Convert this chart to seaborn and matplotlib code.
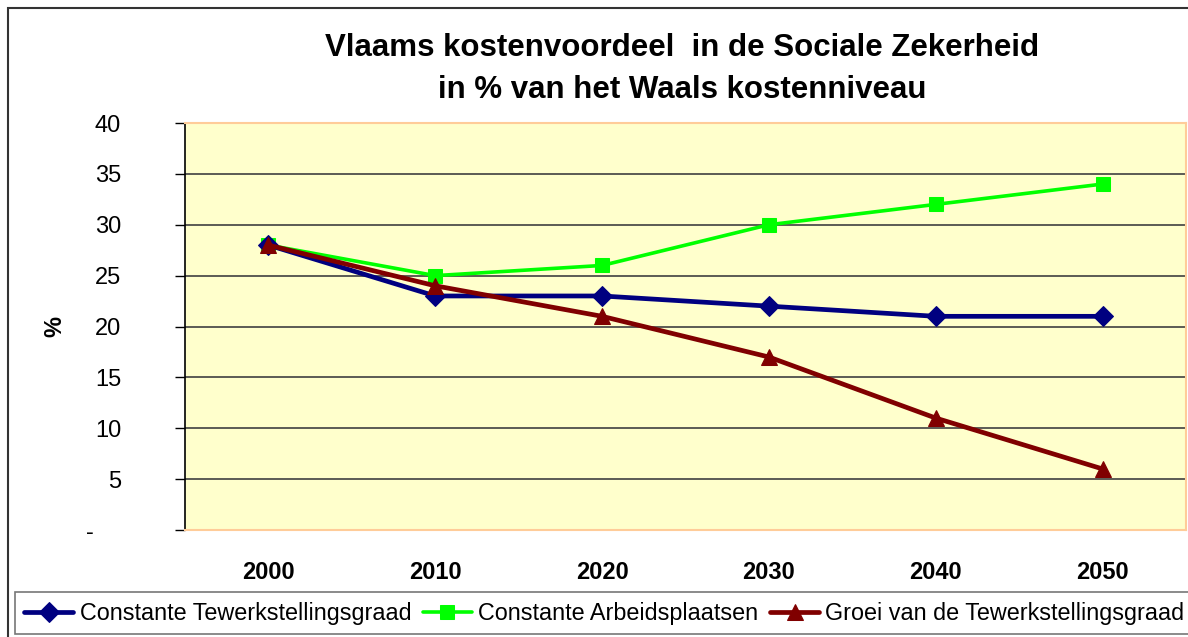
import matplotlib
matplotlib.use("Agg")
import matplotlib.pyplot as plt
import matplotlib.transforms as mtransforms
import seaborn as sns
import pandas as pd
from matplotlib.patches import Rectangle

years = [2000, 2010, 2020, 2030, 2040, 2050]
constante_tewerkstellingsgraad = [28, 23, 23, 22, 21, 21]
constante_arbeidsplaatsen = [28, 25, 26, 30, 32, 34]
groei_tewerkstellingsgraad = [28, 24, 21, 17, 11, 6]
series_names = ["Constante Tewerkstellingsgraad", "Constante Arbeidsplaatsen",
                "Groei van de Tewerkstellingsgraad"]
y_ticks = [0, 5, 10, 15, 20, 25, 30, 35, 40]
y_ticklabels = ["-", "5", "10", "15", "20", "25", "30", "35", "40"]
title = "Vlaams kostenvoordeel  in de Sociale Zekerheid\nin % van het Waals kostenniveau"

sns.set_theme(style="white")
plt.rcParams["font.family"] = ["Liberation Sans", "DejaVu Sans"]
plt.rcParams["text.color"] = "black"
plt.rcParams["axes.labelcolor"] = "black"
plt.rcParams["xtick.color"] = "black"
plt.rcParams["ytick.color"] = "black"

df = pd.DataFrame({
    "jaar": years * 3,
    "waarde": constante_tewerkstellingsgraad + constante_arbeidsplaatsen + groei_tewerkstellingsgraad,
    "reeks": [series_names[0]] * 6 + [series_names[1]] * 6 + [series_names[2]] * 6,
})

fig = plt.figure(figsize=(11.88, 6.37), dpi=100)
ax = fig.add_axes([185 / 1188, 1 - 530 / 637, (1186 - 185) / 1188, (530 - 123) / 637])
ax.set_facecolor("#FFFFCC")

styles = {
    series_names[0]: dict(color="#000080", marker="D", markersize=10, linewidth=3.4, zorder=3),
    series_names[1]: dict(color="#00FF00", marker="s", markersize=10.5, linewidth=2.6, zorder=2),
    series_names[2]: dict(color="#800000", marker="^", markersize=12, linewidth=3.4, zorder=4),
}
for name in series_names:
    st = styles[name]
    sns.lineplot(data=df[df["reeks"] == name], x="jaar", y="waarde", ax=ax,
                 color=st["color"], marker=st["marker"], markersize=st["markersize"],
                 markeredgecolor=st["color"], linewidth=st["linewidth"],
                 label=name, zorder=st["zorder"])

ax.set_xlim(1995, 2055)
ax.set_ylim(0, 40)
ax.set_yticks(y_ticks)
ax.set_yticklabels(y_ticklabels, fontsize=17)
ax.set_xticks(years)
ax.set_xticklabels([str(y) for y in years], fontsize=17, fontweight="bold")
ax.tick_params(axis="x", length=0, pad=22)
ax.tick_params(axis="y", direction="out", length=7, width=1, color="black", left=True, pad=39)
# accounting-style position of the zero dash
zero_lbl = ax.get_yticklabels()[0]
zero_lbl.set_transform(zero_lbl.get_transform() +
                       mtransforms.ScaledTranslation(-27 / 100, 0, fig.dpi_scale_trans))

for v in y_ticks[1:-1]:
    ax.axhline(v, color="#404040", linewidth=1.2, zorder=1)

for s in ["top", "right", "bottom"]:
    ax.spines[s].set_color("#FFCC99")
    ax.spines[s].set_linewidth(1.5)
ax.spines["left"].set_color("black")
ax.spines["left"].set_linewidth(1.2)

ax.set_xlabel("")
ax.set_ylabel("%", fontsize=17, fontweight="bold")
ax.yaxis.set_label_coords((66 - 185) / 1001, 0.5)

fig.text(682 / 1188, 1 - 69 / 637, title, ha="center", va="center", fontsize=22.5,
         fontweight="bold", linespacing=1.5)

# outer border
fig.patches.append(Rectangle((8 / 1188, -0.02), 1.1, 1 - 8 / 637 + 0.02,
                             transform=fig.transFigure, fill=False,
                             edgecolor="#333333", linewidth=1.5))

ax.get_legend().remove()
handles, labels = ax.get_legend_handles_labels()
leg = fig.legend(handles, labels, loc="lower left", ncol=3,
                 bbox_to_anchor=(15 / 1188, 3 / 637),
                 frameon=True, fancybox=False, fontsize=16.8,
                 handlelength=2.1, handletextpad=0.27, columnspacing=0.5,
                 borderpad=0.4, borderaxespad=0)
leg.get_frame().set_edgecolor("#555555")
leg.get_frame().set_linewidth(1.2)

fig.savefig("out.png", dpi=100)
